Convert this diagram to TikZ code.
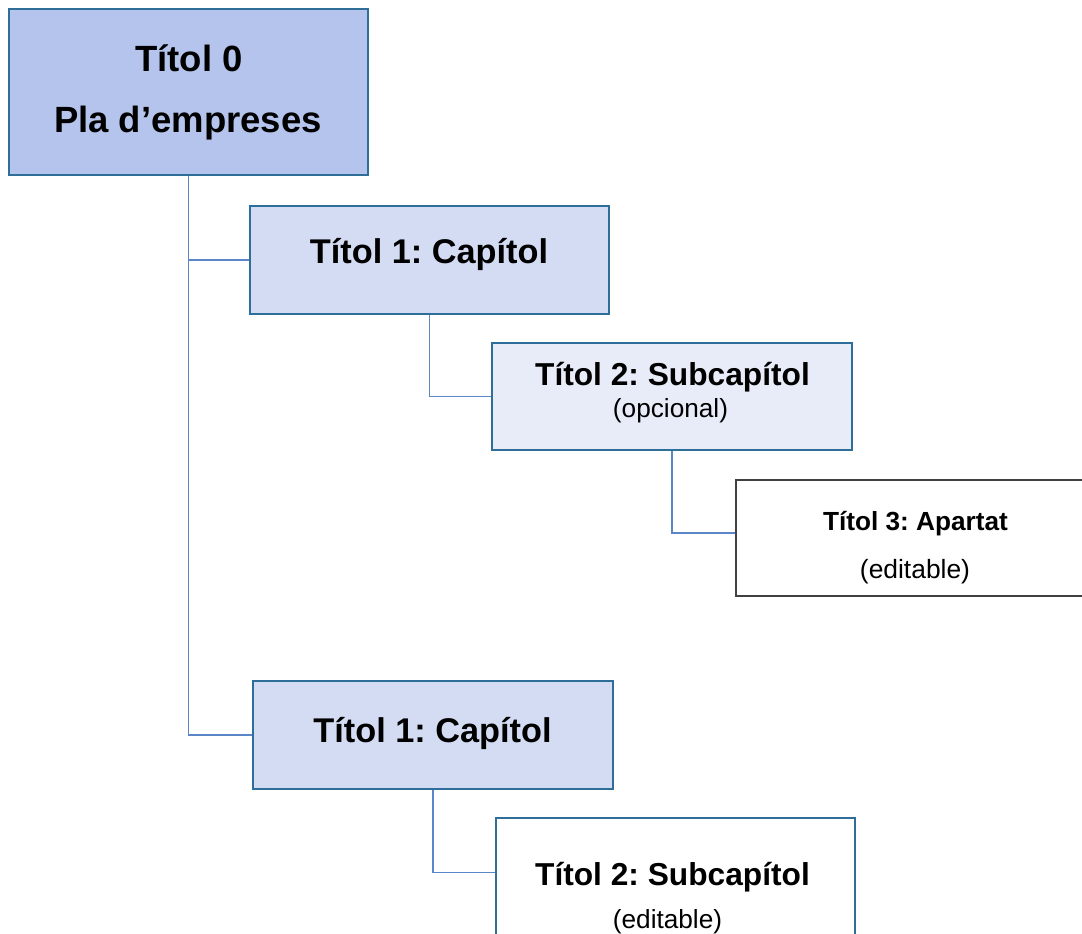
\documentclass[tikz,border=0pt]{standalone}
\usepackage{fontspec}
\setmainfont{Liberation Sans}
\frenchspacing
\definecolor{fillA}{HTML}{B4C4EC}
\definecolor{fillB}{HTML}{D3DCF3}
\definecolor{fillC}{HTML}{E8ECF8}
\definecolor{edgeBlue}{HTML}{2F6E98}
\definecolor{edgeGray}{HTML}{404040}
\definecolor{linkBlue}{HTML}{5B87C9}
\tikzset{
  box/.style={draw=edgeBlue, line width=1.2pt, rectangle, inner sep=0pt},
  lbl/.style={anchor=base, inner sep=0pt, text=black},
  link/.style={draw=linkBlue, line width=1.1pt},
}
\begin{document}
\begin{tikzpicture}[x=1pt,y=-1pt]
\useasboundingbox (0,0) rectangle (1082,934);
\clip (0,0) rectangle (1082,934);
% boxes
\node[box, fill=fillA, minimum width=359pt, minimum height=166pt] (t0) at (188.5,92) {};
\node[box, fill=fillB, minimum width=359pt, minimum height=108pt] (b1a) at (429.5,260) {};
\node[box, fill=fillC, minimum width=360pt, minimum height=107pt] (b2a) at (672,396.5) {};
\node[box, draw=edgeGray, fill=white, minimum width=360pt, minimum height=116pt] (b3) at (916,538) {};
\node[box, fill=fillB, minimum width=360pt, minimum height=108pt] (b1b) at (433,735) {};
\node[box, fill=white, minimum width=359pt, minimum height=130pt] (b2b) at (675.5,883) {};
% connectors
\draw[link] (t0.south) |- (b1b.west);
\draw[link] (t0.south |- b1a.west) -- (b1a.west);
\draw[link] (b1a.south) |- (b2a.west);
\draw[link] (b2a.south) |- ([yshift=5pt]b3.west);
\draw[link] (b1b.south) |- ([yshift=-55pt]b2b.north west);
% labels
\node[lbl, font=\fontsize{36.5}{40}\bfseries\selectfont] (t0a) at (189,72) {Títol 0};
\node[lbl, font=\fontsize{36.5}{40}\bfseries\selectfont] (t0b) at (188,132) {Pla d’empreses};
\node[lbl, font=\fontsize{34.3}{38}\bfseries\selectfont] (b1aT) at (429,263) {Títol 1: Capítol};
\node[lbl, font=\fontsize{31.7}{35}\bfseries\selectfont] (b2aT) at (672.5,385) {Títol 2: Subcapítol};
\node[lbl, font=\fontsize{26.2}{30}\selectfont] (b2aS) at (670.5,417) {(opcional)};
\node[lbl, font=\fontsize{26.2}{30}\bfseries\selectfont] (b3T) at (915.5,530) {Títol 3: Apartat};
\node[lbl, font=\fontsize{26.4}{30}\selectfont] (b3S) at (915,578) {(editable)};
\node[lbl, font=\fontsize{34.3}{38}\bfseries\selectfont] (b1bT) at (432.5,742) {Títol 1: Capítol};
\node[lbl, font=\fontsize{31.7}{35}\bfseries\selectfont] (b2bT) at (672.5,885) {Títol 2: Subcapítol};
\node[lbl, font=\fontsize{26.2}{30}\selectfont] (b2bS) at (667.5,928) {(editable)};
\end{tikzpicture}
\end{document}
